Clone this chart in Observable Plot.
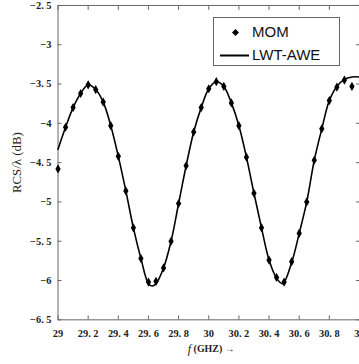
<!DOCTYPE html>
<html>
<head>
<meta charset="utf-8">
<script src="https://cdn.jsdelivr.net/npm/d3@7"></script>
<script src="https://cdn.jsdelivr.net/npm/@observablehq/plot@0.6"></script>
<style>
  html, body { margin: 0; padding: 0; background: #fff; overflow: hidden; }
  #wrap { position: relative; width: 359px; height: 364px; overflow: hidden; }
  #legend { position: absolute; left: 213px; top: 17px; width: 127px; height: 49px;
            border: 1px solid #666; background: #fff; font-family: "Liberation Sans", Arial, sans-serif;
            font-size: 15px; color: #111; box-sizing: border-box; }
  #legend .row { position: absolute; left: 0; width: 100%; height: 20px; }
  #legend .lbl { position: absolute; left: 38px; top: 0; line-height: 20px; }
  #legend svg { position: absolute; left: 0; top: 0; }
</style>
</head>
<body>
<div id="wrap">
  <div id="chart"></div>
  <div id="legend">
    <div class="row" style="top:4px">
      <svg width="36" height="20"><path d="M21.5,7 L25,10.5 L21.5,14 L18,10.5 Z" fill="#000"/></svg>
      <span class="lbl">MOM</span>
    </div>
    <div class="row" style="top:27px">
      <svg width="36" height="20"><line x1="6" y1="10.5" x2="35" y2="10.5" stroke="#000" stroke-width="2"/></svg>
      <span class="lbl">LWT-AWE</span>
    </div>
  </div>
</div>
<script>
// MOM samples (GHz, dB)
const freqMOM = [29.00, 29.05, 29.10, 29.15, 29.20, 29.25, 29.30, 29.35, 29.40, 29.45,
                 29.50, 29.55, 29.60, 29.65, 29.70, 29.75, 29.80, 29.85, 29.90, 29.95,
                 30.00, 30.05, 30.10, 30.15, 30.20, 30.25, 30.30, 30.35, 30.40, 30.45,
                 30.50, 30.55, 30.60, 30.65, 30.70, 30.75, 30.80, 30.85, 30.90, 30.95];
const rcsMOM  = [-4.58, -4.05, -3.80, -3.62, -3.51, -3.57, -3.73, -4.03, -4.42, -4.86,
                 -5.33, -5.72, -6.02, -6.01, -5.84, -5.50, -5.02, -4.54, -4.11, -3.80,
                 -3.56, -3.47, -3.53, -3.74, -4.03, -4.43, -4.89, -5.33, -5.74, -5.96,
                 -6.02, -5.76, -5.40, -5.00, -4.47, -4.07, -3.71, -3.54, -3.45, -3.53];

// LWT-AWE curve (GHz, dB)
const freqLine = [29.00, 29.05, 29.10, 29.15, 29.20, 29.25, 29.30, 29.35, 29.40, 29.45,
                  29.50, 29.55, 29.60, 29.625, 29.65, 29.70, 29.75, 29.80, 29.85, 29.90,
                  29.95, 30.00, 30.05, 30.10, 30.15, 30.20, 30.25, 30.30, 30.35, 30.40,
                  30.45, 30.49, 30.55, 30.60, 30.65, 30.70, 30.75, 30.80, 30.85, 30.90,
                  30.95, 31.00];
const rcsLine  = [-4.33, -4.05, -3.80, -3.62, -3.51, -3.57, -3.73, -4.03, -4.42, -4.86,
                  -5.33, -5.72, -6.04, -6.07, -6.04, -5.84, -5.50, -5.02, -4.54, -4.11,
                  -3.80, -3.56, -3.47, -3.53, -3.74, -4.03, -4.43, -4.89, -5.33, -5.74,
                  -5.97, -6.04, -5.77, -5.40, -5.00, -4.47, -4.07, -3.71, -3.53, -3.44,
                  -3.41, -3.41];

// Axis ticks and labels
const xTicks = [29, 29.2, 29.4, 29.6, 29.8, 30, 30.2, 30.4, 30.6, 30.8, 31];
const xTickLabels = ["29", "29. 2", "29. 4", "29. 6", "29. 8", "30", "30. 2", "30. 4", "30. 6", "30. 8", "31"];
const yTicks = [-6.5, -6, -5.5, -5, -4.5, -4, -3.5, -3, -2.5];
const yTickLabels = ["\u22126. 5", "\u22126", "\u22125. 5", "\u22125", "\u22124. 5", "\u22124", "\u22123. 5", "\u22123", "\u22122. 5"];

const mom = freqMOM.map((f, i) => ({f, v: rcsMOM[i]}));
const line = freqLine.map((f, i) => ({f, v: rcsLine[i]}));

const xFmt = d => xTickLabels[xTicks.findIndex(t => Math.abs(t - d) < 1e-9)];
const yFmt = d => yTickLabels[yTicks.findIndex(t => Math.abs(t - d) < 1e-9)];

const tickFont = {fontFamily: "'Liberation Serif', serif", fontWeight: "bold", fontSize: 10.5, fill: "#222"};

const chart = Plot.plot({
  width: 362,
  height: 364,
  marginLeft: 58,
  marginRight: 0,
  marginTop: 5,
  marginBottom: 42,
  style: {background: "#fff", overflow: "visible"},
  x: {domain: [29, 31]},
  y: {domain: [-6.5, -2.5]},
  marks: [
    Plot.frame({stroke: "#666", strokeWidth: 1}),
    Plot.axisX({anchor: "bottom", ticks: xTicks, tickFormat: xFmt, tickSize: -4, tickPadding: 14,
                stroke: "#666", label: null, ...tickFont}),
    Plot.axisX({anchor: "top", ticks: xTicks, tickFormat: () => "", tickSize: -4, stroke: "#666", label: null}),
    Plot.axisY({anchor: "left", ticks: yTicks, tickFormat: yFmt, tickSize: -4, tickPadding: 10.5,
                stroke: "#666", label: null, ...tickFont}),
    Plot.axisY({anchor: "right", ticks: yTicks, tickFormat: () => "", tickSize: -4, stroke: "#666", label: null}),
    Plot.line(line, {x: "f", y: "v", curve: "catmull-rom", stroke: "#000", strokeWidth: 1.6}),
    Plot.dot(mom, {x: "f", y: "v", symbol: "diamond", r: 2.8, fill: "#000"})
  ]
});

// axis titles as real text
const svg = d3.select(chart);
svg.append("text")
  .attr("transform", "translate(18,164) rotate(-90)")
  .attr("text-anchor", "middle")
  .attr("dominant-baseline", "middle")
  .style("font-family", "'Liberation Serif', serif")
  .style("font-size", "13px")
  .style("fill", "#222")
  .text("RCS/\u03bb (dB)");
const xl = svg.append("text")
  .attr("x", 213).attr("y", 353)
  .attr("text-anchor", "middle")
  .attr("dominant-baseline", "middle")
  .style("font-family", "'Liberation Serif', serif")
  .style("font-size", "10px")
  .style("font-weight", "bold")
  .style("fill", "#222");
xl.append("tspan").style("font-style", "italic").style("font-weight", "normal").style("font-size", "12px").text("f");
xl.append("tspan").text(" (GHZ) \u2192");

document.getElementById("chart").appendChild(chart);
</script>
</body>
</html>
